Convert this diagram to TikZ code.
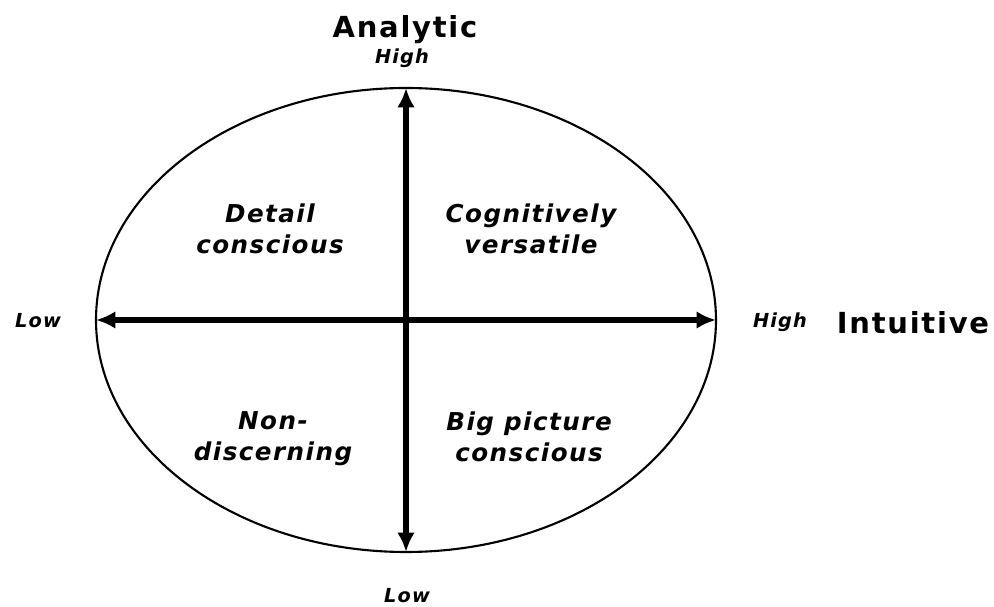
\documentclass[tikz,border=0pt]{standalone}
\usepackage{fontspec}
\setmainfont{DejaVu Sans}
\newfontfamily\labelfont[LetterSpace=6]{DejaVu Sans}
\usepackage{tikz}
\usetikzlibrary{arrows.meta}

\begin{document}
\begin{tikzpicture}[x=0.02cm,y=-0.02cm,
	axis line/.style={line width=3.4pt,{Latex[length=11pt,width=10pt]}-{Latex[length=11pt,width=10pt]}},
	quad node/.style={align=center, font=\labelfont\bfseries\itshape\fontsize{14}{17.5}\selectfont, inner sep=0pt},
	end node/.style={font=\labelfont\bfseries\itshape\fontsize{11}{13}\selectfont, inner sep=0pt},
	title node/.style={font=\labelfont\bfseries\fontsize{16.5}{19}\selectfont, inner sep=0pt}]
			\useasboundingbox (0,0) rectangle (994,607);
			% Circle
			\draw[line width=1.2pt] (406,320) ellipse [x radius=310, y radius=232];
			\coordinate (top) at (406,88);
			\coordinate (bottom) at (406,552);
			\coordinate (left) at (96,320);
			\coordinate (right) at (716,320);
			
			% Axes
			\draw[axis line] (bottom) -- (top);
			\draw[axis line] (left) -- (right);
			
			% Labels
			\node[title node] (analytic) at (405,30) {Analytic};
			\node[end node] (high1) at (402,58) {High};
			\node[end node] (low1) at (407,596) {Low};
			\node[end node] (low2) at (38,321) {Low};
			\node[end node] (high2) at (780,322) {High};
			\node[title node] (intuitive) at (913,323) {Intuitive};
			
			% Quadrants
			\node[quad node] (detail) at (270,229) {Detail\\conscious};
			\node[quad node] (versatile) at (531,229) {Cognitively\\versatile};
			\node[quad node] (nondisc) at (273,439) {Non-\\discerning};
			\node[quad node] (bigpic) at (529,437) {Big picture\\conscious};
			
		\end{tikzpicture}
\end{document}
